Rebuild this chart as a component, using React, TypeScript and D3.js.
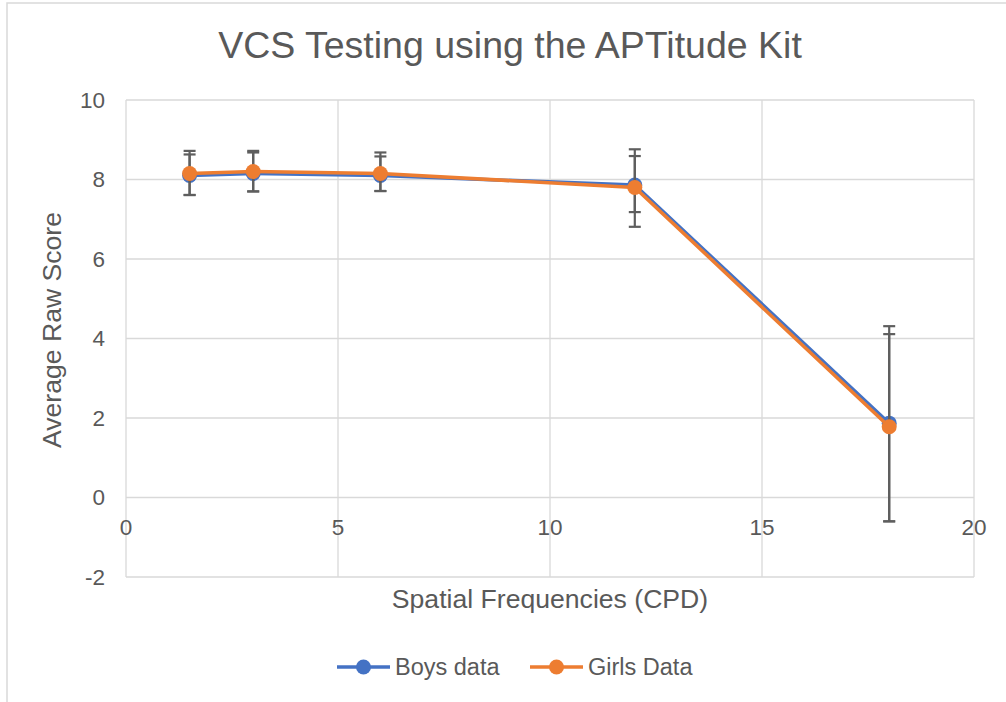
import React from 'react';
import * as d3 from 'd3';

// Spatial frequencies (CPD)
const frequencies = [1.5, 3, 6, 12, 18];

// Boys
const boysMeans = [8.1, 8.15, 8.1, 7.86, 1.87];
const boysErrUp = [0.53, 0.53, 0.48, 0.73, 2.24];
const boysErrDown = [0.49, 0.45, 0.39, 0.68, 2.47];

// Girls
const girlsMeans = [8.15, 8.2, 8.15, 7.8, 1.78];
const girlsErrUp = [0.57, 0.52, 0.53, 0.96, 2.53];
const girlsErrDown = [0.54, 0.5, 0.44, 0.99, 2.38];

const xTicks = [0, 5, 10, 15, 20];
const yTicks = [-2, 0, 2, 4, 6, 8, 10];

const WIDTH = 1006;
const HEIGHT = 702;
const margin = { top: 100, right: 32, bottom: 125, left: 126 };
const FONT = '"Liberation Sans", Arial, sans-serif';
const TEXT = '#595959';
const GRID = '#D9D9D9';

const series = [
  { name: 'Boys data', color: '#4472C4', means: boysMeans, up: boysErrUp, down: boysErrDown },
  { name: 'Girls Data', color: '#ED7D31', means: girlsMeans, up: girlsErrUp, down: girlsErrDown },
];

export default function App() {
  const x = d3.scaleLinear().domain([0, 20]).range([margin.left, WIDTH - margin.right]);
  const y = d3.scaleLinear().domain([-2, 10]).range([HEIGHT - margin.bottom, margin.top]);

  const line = d3
    .line<number>()
    .x((_, i) => x(frequencies[i]))
    .y((d) => y(d));

  const errorBars = (s: typeof series[number]) =>
    frequencies.map((f, i) => {
      const cx = x(f);
      const top = y(s.means[i] + s.up[i]);
      const bottom = y(s.means[i] - s.down[i]);
      return (
        <g key={s.name + i} stroke="#5E5E5E" strokeWidth={2.2}>
          <line x1={cx} x2={cx} y1={top} y2={bottom} />
          <line x1={cx - 6} x2={cx + 6} y1={top} y2={top} />
          <line x1={cx - 6} x2={cx + 6} y1={bottom} y2={bottom} />
        </g>
      );
    });

  const markers = (s: typeof series[number]) =>
    s.means.map((v, i) => (
      <circle key={s.name + 'm' + i} cx={x(frequencies[i])} cy={y(v)} r={7.5} fill={s.color} />
    ));

  const legendItems = [
    { ...series[0], x0: 337 },
    { ...series[1], x0: 530 },
  ];

  return (
    <svg
      width={WIDTH}
      height={HEIGHT}
      style={{ position: 'absolute', left: 0, top: 0, background: '#fff' }}
      fontFamily={FONT}
    >
      {/* chart area border */}
      <rect x={7} y={3} width={1200} height={1000} fill="#fff" stroke={GRID} strokeWidth={1.5} />

      {/* title */}
      <text x={510} y={58} textAnchor="middle" fontSize={37.5} fill={TEXT}>
        VCS Testing using the APTitude Kit
      </text>

      {/* gridlines */}
      {yTicks.map((t) => (
        <line key={'gy' + t} x1={x(0)} x2={x(20)} y1={y(t)} y2={y(t)} stroke={GRID} strokeWidth={1.3} />
      ))}
      {xTicks.map((t) => (
        <line key={'gx' + t} x1={x(t)} x2={x(t)} y1={y(10)} y2={y(-2)} stroke={GRID} strokeWidth={1.3} />
      ))}

      {/* y tick labels */}
      {yTicks.map((t) => (
        <text key={'ly' + t} x={105} y={y(t)} dy="0.35em" textAnchor="end" fontSize={22.5} fill={TEXT}>
          {t}
        </text>
      ))}
      {/* x tick labels */}
      {xTicks.map((t) => (
        <text key={'lx' + t} x={x(t)} y={y(0) + 37} textAnchor="middle" fontSize={22.5} fill={TEXT}>
          {t}
        </text>
      ))}

      {/* axis titles */}
      <text x={x(10)} y={608} textAnchor="middle" fontSize={26.6} fill={TEXT}>
        Spatial Frequencies (CPD)
      </text>
      <text
        transform={`translate(61,330) rotate(-90)`}
        textAnchor="middle"
        fontSize={26.6}
        fill={TEXT}
      >
        Average Raw Score
      </text>

      {/* boys */}
      <path d={line(series[0].means) ?? ''} fill="none" stroke={series[0].color} strokeWidth={3.5} strokeLinejoin="round" />
      {markers(series[0])}
      {errorBars(series[0])}
      {errorBars(series[1])}
      {/* girls */}
      <path d={line(series[1].means) ?? ''} fill="none" stroke={series[1].color} strokeWidth={3.5} strokeLinejoin="round" />
      {markers(series[1])}

      {/* legend */}
      {legendItems.map((s) => (
        <g key={'lg' + s.name}>
          <line x1={s.x0} x2={s.x0 + 53} y1={667} y2={667} stroke={s.color} strokeWidth={3.5} />
          <circle cx={s.x0 + 26.5} cy={667} r={7.5} fill={s.color} />
          <text x={s.x0 + 58} y={667} dy="0.35em" fontSize={23.5} fill={TEXT}>
            {s.name}
          </text>
        </g>
      ))}
    </svg>
  );
}
